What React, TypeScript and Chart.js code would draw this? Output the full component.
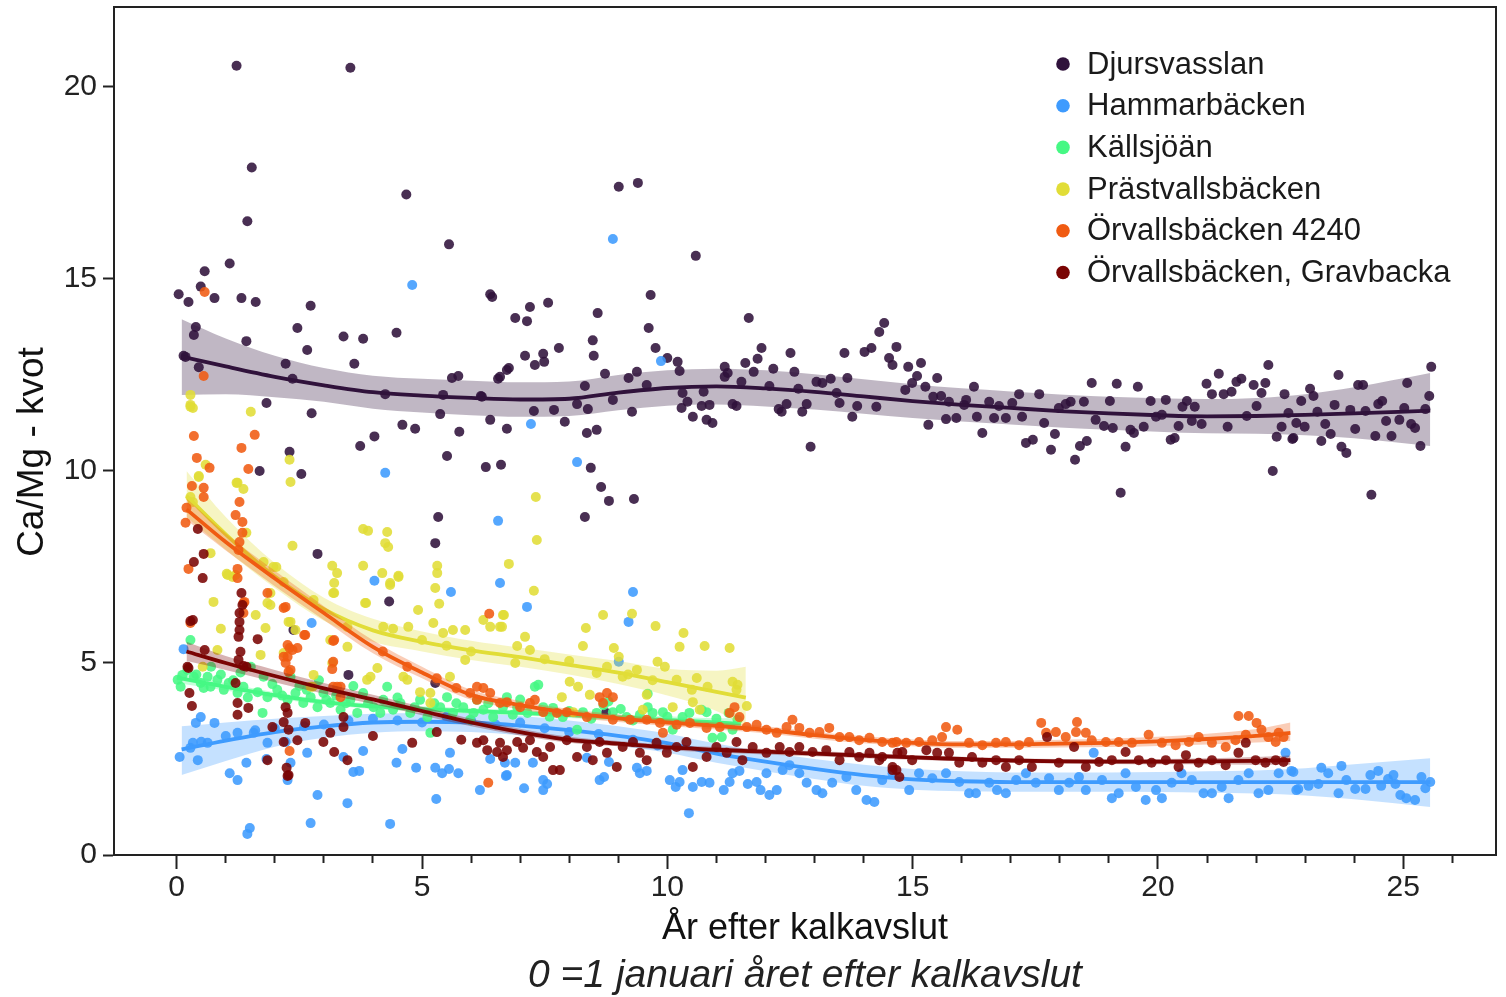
import React, { useEffect, useRef } from "react";
import { Chart, registerables } from "chart.js";

Chart.register(...registerables);

const seriesNames = [
  "Djursvasslan",
  "Hammarbäcken",
  "Källsjöän",
  "Prästvallsbäcken",
  "Örvallsbäcken 4240",
  "Örvallsbäcken, Gravbacka",
];
const seriesColors = ["#30123b", "#3e9bfe", "#46f884", "#e1dd37", "#f05b12", "#7a0403"];

const xTickValues = [0, 1, 2, 3, 4, 5, 6, 7, 8, 9, 10, 11, 12, 13, 14, 15, 16, 17, 18, 19, 20, 21, 22, 23, 24, 25, 26];
const xTickLabels = [0, 5, 10, 15, 20, 25];
const yTickValues = [0, 5, 10, 15, 20];

const xTitle = "År efter kalkavslut";
const yTitle = "Ca/Mg - kvot";
const subTitle = "0 =1 januari året efter kalkavslut";

// ---- scatter points [x, y] ----
const djursvasslanPts = [
  [0.04,14.6],[0.24,14.4],[0.14,13.0],[0.39,13.75],[0.35,13.54],[0.18,12.97],[0.45,12.7],[0.57,15.2],[0.49,14.8],[0.77,14.5],
  [1.22,20.55],[1.08,15.4],[1.32,14.5],[1.53,17.9],[1.44,16.5],[1.61,14.4],[1.42,13.38],[1.83,11.77],[1.69,10.0],[2.3,10.5],
  [2.54,9.92],[2.87,7.84],[2.46,13.72],[2.66,13.15],[2.22,12.79],[2.36,12.4],[2.75,11.5],[2.73,14.3],[3.54,20.5],[3.4,13.5],
  [3.8,13.44],[4.48,13.6],[3.62,12.79],[4.25,12.0],[4.6,11.2],[4.86,11.1],[4.03,10.9],[3.74,10.65],[4.68,17.2],[5.55,15.9],
  [5.37,11.48],[5.43,11.98],[5.61,12.42],[5.74,12.47],[6.2,11.95],[6.39,11.33],[5.76,11.02],[5.51,10.39],[6.3,10.1],[6.61,10.16],
  [6.73,11.1],[6.55,12.4],[6.73,12.63],[5.33,8.8],[5.27,8.12],[4.33,6.6],[2.38,5.86],[3.5,4.69],[5.27,4.48],[8.75,3.7],
  [6.43,14.53],[6.39,14.6],[7.2,14.27],[7.57,14.38],[6.9,13.98],[7.14,13.9],[8.58,14.11],[9.66,14.58],[9.62,13.72],[9.76,13.2],
  [10.0,12.94],[10.21,12.84],[10.25,12.6],[7.79,13.2],[7.1,13.0],[7.47,13.05],[7.3,12.76],[7.49,12.84],[8.5,13.0],[6.77,12.68],
  [6.59,12.45],[8.73,12.53],[9.38,12.58],[9.21,12.42],[9.58,12.24],[8.32,12.21],[8.89,11.85],[6.22,11.93],[7.28,11.56],[7.69,11.59],
  [8.16,11.74],[8.38,11.61],[9.28,11.54],[7.91,11.28],[8.36,10.99],[8.56,11.07],[8.44,10.08],[8.65,9.58],[8.81,9.22],[9.32,9.27],
  [8.32,8.8],[9.01,17.4],[9.4,17.5],[10.58,15.6],[8.48,13.4],
  [10.31,12.03],[10.41,11.8],[10.29,11.64],[10.52,11.41],[10.7,11.69],[10.86,11.72],[10.8,11.33],[10.92,11.25],[10.74,12.06],[11.17,12.71],
  [11.23,12.55],[11.17,12.45],[11.51,12.32],[11.59,12.81],[11.66,13.98],[11.92,13.2],[11.84,12.92],[11.76,12.58],[11.33,11.74],[11.41,11.69],
  [12.16,12.66],[12.08,12.21],[12.51,13.07],[12.59,12.58],[12.67,12.14],[12.27,11.61],[12.33,11.54],[12.43,11.74],[12.75,11.54],[12.84,11.74],
  [12.92,10.63],[13.04,12.32],[13.16,12.29],[13.33,12.4],[13.45,12.03],[13.61,13.07],[13.67,12.42],[13.51,11.77],[13.77,11.41],[13.87,11.69],
  [14.26,11.67],[14.02,13.1],[14.16,13.2],[14.32,13.62],[14.42,13.85],[14.52,12.94],[14.59,12.76],[14.67,13.23],
  [14.91,12.71],[15.17,12.81],[15.09,12.47],[14.99,12.29],[15.5,12.42],[15.26,12.19],[14.85,12.11],[15.42,11.93],[15.58,11.95],[15.74,11.8],
  [15.32,11.2],[15.68,11.35],[15.89,11.38],[16.25,12.19],[16.09,11.85],[16.05,11.72],[16.42,10.99],[16.31,11.41],[16.56,11.8],[16.76,11.69],
  [16.66,11.38],[16.9,11.38],[17.17,12.0],[17.03,11.77],[17.23,11.41],[17.31,10.73],[17.45,10.81],[17.58,12.0],[17.68,11.25],[17.82,10.55],
  [17.9,10.96],[17.98,11.64],[18.12,11.74],[18.22,11.8],[18.31,10.29],[18.41,10.65],[18.55,10.78],[18.49,11.8],[18.65,12.29],[18.73,11.33],
  [18.9,11.17],[19.02,11.82],[19.08,11.12],[19.16,12.27],[19.24,9.43],[19.34,10.63],[19.44,11.07],[19.51,10.99],[19.59,12.19],[19.71,11.15],
  [19.85,11.82],[19.96,11.41],[20.08,11.46],[20.16,11.85],[20.26,10.81],[20.34,10.86],[20.42,11.17],[20.5,11.67],[20.59,11.82],[20.75,11.67],
  [20.69,11.3],[20.89,11.22],[20.99,12.27],[21.1,12.0],[21.24,12.53],[21.34,12.0],[21.42,11.15],[21.5,12.06],[21.6,12.32],[21.7,12.4],
  [21.81,11.43],[21.95,12.24],[22.01,11.69],[22.11,12.03],[22.19,12.29],[22.25,12.76],[22.34,10.0],[22.42,10.89],[22.52,11.15],[22.58,12.0],
  [22.66,11.51],[22.76,10.86],[22.82,11.25],
  [22.92,11.82],[23.1,12.14],[23.17,11.95],[22.99,11.15],[22.74,10.83],[23.33,10.78],[23.41,11.22],[23.52,10.96],[23.25,11.54],[23.6,11.72],
  [23.68,12.5],[23.74,10.63],[23.84,10.47],[23.92,11.59],[24.02,11.09],[24.08,12.24],[24.18,12.24],[24.23,11.56],[24.35,9.38],[24.43,10.91],
  [24.49,11.74],[24.57,11.82],[24.65,11.3],[24.76,10.91],[24.92,11.33],[25.02,11.64],[25.08,12.29],[25.16,11.22],[25.24,11.12],[25.35,10.65],
  [25.45,11.61],[25.53,11.95],[25.57,12.71],
];

const hammarbackenPts = [
  [0.14,5.36],[0.06,2.55],[0.33,2.92],[0.43,2.47],[0.49,3.59],[0.39,3.44],[0.77,3.44],[0.63,2.92],[1.24,3.18],[1.08,2.13],
  [1.24,1.95],[1.42,2.4],[1.49,0.7],[1.44,0.55],[1.83,2.5],[1.57,3.18],[1.85,2.92],[2.22,2.94],[2.26,1.95],[2.32,2.4],
  [2.66,2.66],[2.73,0.83],[2.87,1.56],[3.48,1.35],[3.4,2.55],[3.6,2.16],[3.72,2.19],[3.8,2.71],[4.35,0.81],[4.48,2.4],
  [4.6,2.76],[4.88,2.27],[5.29,1.46],[5.27,2.27],[5.41,2.13],[5.57,2.66],[5.55,2.24],[5.74,2.13],[6.18,1.69],[6.39,2.5],
  [6.73,2.08],[6.59,7.08],[5.59,6.85],[4.03,7.14],[2.75,6.04],[4.25,9.95],[4.8,14.84],[8.89,16.04],[9.87,12.86],[7.22,11.22],
  [8.16,10.23],[6.55,8.7],[7.14,6.46],[9.3,6.85],[9.21,6.07],[9.01,5.03],[0.28,2.79],[0.5,2.95],[1.0,3.1],[1.6,3.25],
  [2.0,3.3],[2.6,3.35],[3.0,3.4],[3.5,3.5],[4.0,3.55],[4.5,3.5],[5.0,3.45],[5.5,3.6],[6.0,3.5],[6.5,3.4],
  [7.0,3.45],[7.5,3.3],[8.0,3.2],[8.6,3.15],[9.3,3.0],[9.8,2.85],
  [6.69,2.4],[6.9,2.4],[6.71,2.06],[7.08,1.74],[7.26,2.4],[7.47,1.95],[7.55,1.85],[7.47,1.69],[8.36,2.53],[8.62,1.95],
  [8.71,2.03],[8.81,2.42],[9.38,2.27],[9.44,2.13],[9.58,2.19],[10.05,1.95],[10.17,1.77],[10.25,1.9],[10.44,1.09],[10.31,2.21],
  [10.52,1.77],[10.7,1.9],[10.86,1.88],[11.15,1.69],[11.27,1.9],[11.33,2.13],[11.47,2.19],[11.64,1.85],[11.82,1.9],[11.9,1.69],
  [12.08,1.56],[12.23,1.69],[12.02,2.13],[12.35,2.21],[12.49,2.34],[12.69,2.13],[12.84,1.88],[13.04,1.69],[13.16,1.61],[13.36,1.88],
  [13.65,2.03],[13.85,1.69],[14.06,1.43],[14.22,1.38],[14.38,1.95],[14.59,2.13],
  [14.93,1.69],[15.13,2.13],[15.4,2.0],[15.68,2.13],[15.95,1.9],[16.15,1.61],[16.29,1.61],[16.56,1.88],[16.72,1.69],[16.9,1.61],
  [17.11,1.95],[17.31,2.13],[17.51,1.88],[17.78,2.0],[17.98,1.69],[18.19,1.88],[18.39,2.03],[18.53,1.69],[18.69,2.66],[18.86,1.95],
  [19.06,1.48],[19.2,1.61],[19.34,2.13],[19.55,1.77],[19.75,1.43],[19.96,1.69],[20.08,1.48],[20.28,1.88],[20.48,2.13],[20.69,1.95],
  [20.93,1.61],[21.1,1.61],[21.3,1.77],[21.44,1.48],[21.64,1.95],[21.85,2.13],[22.05,1.61],[22.25,1.69],[22.46,2.13],[22.6,2.66],
  [22.76,2.16],[22.82,1.69],
  [22.72,2.19],[23.33,2.27],[23.47,2.13],[23.74,2.32],[22.86,1.72],[23.07,1.8],[23.27,1.85],[23.68,1.61],[23.84,1.95],[24.02,1.72],
  [24.23,1.72],[24.33,2.08],[24.49,2.19],[24.69,1.98],[24.8,2.08],[24.94,1.56],[25.06,1.48],[25.24,1.43],[25.37,2.03],[25.55,1.9],
  [25.45,1.74],[24.55,1.8],[24.84,1.85],
];

const kallsjoanPts = [
  [0.28,5.6],[0.02,4.56],[0.12,4.69],[0.22,4.82],[0.35,4.64],[0.49,4.48],[0.63,4.64],[0.69,4.38],[0.83,4.56],[0.96,4.3],
  [1.06,4.48],[1.24,4.22],[1.36,4.38],[1.51,4.9],[1.65,4.24],[1.77,4.64],[1.85,4.11],[2.05,4.3],[2.26,4.04],[2.32,4.64],
  [2.42,4.22],[2.58,3.96],[2.73,4.11],[2.87,3.85],[2.99,4.22],[3.13,3.96],[3.34,3.78],[3.54,4.04],[3.68,3.7],[3.8,4.22],
  [4.01,3.85],[4.21,4.04],[4.29,4.38],[4.41,3.78],[4.56,3.96],[4.76,3.7],[4.96,4.04],[5.11,3.59],[5.17,3.18],[5.37,3.85],
  [5.51,4.11],[5.63,3.7],[5.84,3.85],[5.98,3.52],[6.12,4.04],[6.25,3.78],[6.45,3.59],[6.65,3.85],[1.75,3.7],[0.08,4.38],
  [7.3,4.38],[7.37,4.43],[6.73,4.11],[6.94,3.85],[7.47,3.85],[7.67,3.83],[7.87,3.59],[8.16,3.26],[8.28,3.72],[8.56,3.7],
  [8.89,3.72],[9.17,3.59],[9.44,3.65],[9.7,3.7],[9.91,3.72],[10.11,3.26],[10.31,3.59],[10.7,3.78],[10.8,3.72],[10.92,3.05],
  [11.11,3.07],[11.33,3.26],[11.43,3.52],
  [0.4,4.7],[0.55,4.35],[0.9,4.7],[1.15,4.55],[1.45,4.1],[1.95,4.45],[2.15,4.15],[2.5,4.4],[2.65,4.3],[3.05,4.05],
  [3.25,4.15],[3.45,3.95],[3.9,3.95],[4.15,3.7],[4.5,4.1],[4.85,3.85],[5.25,3.95],[5.7,3.95],[6.05,3.7],[6.35,3.95],
  [6.85,3.65],[7.15,3.7],[7.6,3.6],[8.0,3.75],[8.45,3.55],[8.7,3.9],[9.05,3.8],[9.3,3.5],[9.6,3.85],[10.0,3.6],
  [10.45,3.7],[11.0,3.55],[11.25,3.7],[0.7,4.9],[1.3,4.75],[2.9,4.55],[3.6,4.4],[8.8,4.0],[9.6,4.2],[7.0,4.05],
];

const prastvallsbackenPts = [
  [0.28,11.72],[0.33,11.64],[1.51,11.54],[2.3,10.29],[2.32,9.71],[0.59,10.16],[0.45,9.84],[1.22,9.69],[1.36,9.53],[0.28,9.32],
  [0.33,9.19],[1.42,8.39],[2.36,8.05],[0.69,7.86],[1.02,7.32],[1.14,7.24],[0.75,6.59],[0.9,5.89],[0.83,5.34],[0.53,4.9],
  [1.77,7.63],[2.03,7.5],[2.18,7.11],[1.61,6.25],[1.85,6.56],[1.81,5.91],[1.71,5.21],[2.28,6.07],[2.79,4.69],[3.17,7.53],
  [3.27,7.34],[3.21,7.08],[3.21,6.82],[3.8,8.49],[3.9,8.44],[4.29,8.41],[4.25,8.12],[4.31,8.02],[3.8,7.53],[4.19,7.34],
  [4.52,7.27],[4.35,7.08],[3.86,6.56],[4.92,6.38],[5.31,7.53],[5.31,7.34],[5.27,6.95],[5.35,6.54],[5.23,6.04],[4.21,5.94],
  [4.41,5.89],[4.72,5.94],[5.43,5.78],[3.48,5.94],[2.79,6.64],[1.91,6.82],[3.48,5.42],[4.09,4.87],[3.88,4.56],[3.17,5.0],
  [4.62,4.64],[5.17,4.22],[2.42,5.86],[2.77,4.38],
  [6.77,7.58],[6.67,6.25],[6.63,5.94],[7.28,6.88],[7.1,5.68],[6.94,5.44],[7.2,5.34],[6.9,5.0],[8.34,5.91],[8.28,5.44],
  [8.69,6.25],[9.28,6.28],[8.91,5.39],[9.01,5.16],[9.76,5.96],[10.33,5.78],[10.25,5.42],[10.76,5.44],[11.27,5.39],[8.01,4.51],
  [8.18,4.38],[7.85,4.11],[8.42,4.17],[8.56,4.74],[8.77,4.9],[9.09,4.64],[9.38,4.82],[9.58,4.17],[9.8,5.03],[9.95,4.9],
  [10.19,4.56],[10.11,3.85],[10.6,4.61],[10.52,3.98],[10.82,4.38],[11.33,4.51],[11.43,4.43],[11.41,4.3],[11.62,3.88],[8.08,3.72],
  [9.5,3.78],[10.66,3.78],
  [1.04,7.29],[1.2,7.29],[1.97,7.5],[1.91,6.51],[2.18,5.26],[2.32,6.07],[3.13,5.6],[3.19,6.82],[3.84,6.56],[3.95,4.64],
  [4.35,7.03],[4.52,7.24],[5.63,5.86],[5.88,5.08],[5.88,5.86],[6.25,6.12],[6.39,5.94],[6.59,5.94],[6.65,6.25],[4.7,4.56],
  [4.96,4.24],[5.17,3.96],[5.57,4.64],[2.73,4.38],[7.32,9.32],[7.34,8.2],[0.28,11.98],[0.28,11.67],[0.45,9.87],[1.24,9.69],
  [5.0,5.6],[5.5,5.45],[6.0,5.3],[7.5,5.1],[8.0,5.05],[9.2,4.7],[9.7,4.55],[10.5,4.3],
];

const orvalls4240Pts = [
  [0.57,14.66],[0.55,12.47],[0.35,10.91],[1.59,10.94],[1.32,10.6],[0.41,10.34],[0.67,10.08],[1.46,10.05],[0.31,9.61],[0.55,9.56],
  [0.55,9.32],[1.28,9.19],[0.2,9.04],[1.2,8.85],[1.34,8.67],[0.18,8.65],[1.34,8.39],[1.28,8.15],[1.26,7.94],[0.24,7.45],
  [1.24,7.45],[1.24,7.21],[1.85,6.82],[1.38,6.59],[2.18,6.43],[1.36,6.3],[2.6,5.73],[2.3,5.39],[2.46,5.39],[2.26,5.16],
  [2.22,5.0],[2.32,4.82],[3.19,5.57],[3.19,5.03],[3.17,4.84],[3.19,4.38],[3.34,4.38],[2.22,6.46],[1.36,6.56],[2.26,5.47],
  [2.36,5.34],[2.18,5.16],[2.28,4.77],[3.21,5.6],[3.27,4.38],[3.34,4.11],[2.62,5.73],[6.37,6.28],[6.25,4.35],[6.39,4.22],
  [6.35,1.88],[2.3,2.71],[0.28,6.04],[6.12,4.38],[5.98,4.22],[6.12,4.04],[4.2,5.3],[4.7,4.9],[5.3,4.6],[5.7,4.35],
  [6.59,3.96],[6.73,3.98],[7.0,3.85],[7.2,3.96],[7.3,4.04],[7.47,3.72],[7.75,3.7],[7.95,3.72],[8.36,3.59],[8.62,4.11],
  [8.77,4.22],[8.89,4.11],[8.69,3.96],[8.89,3.52],[9.24,3.52],[9.58,3.52],[9.85,3.44],[9.91,3.18],[10.19,3.39],[10.46,3.44],
  [10.8,3.31],[11.07,3.33],[11.27,3.7],[11.37,3.85],[11.47,3.59],[11.62,3.33],[11.82,3.39],[12.02,3.26],[12.23,3.18],[12.43,3.33],
  [12.55,3.52],[12.69,3.31],[12.9,3.18],[13.1,3.2],[13.3,3.31],[13.51,3.07],[13.71,3.07],[13.91,2.99],[14.12,3.05],[14.38,2.94],
  [14.67,2.94],
  [14.59,2.92],[14.87,2.92],[15.13,2.94],[15.4,2.99],[15.68,3.33],[15.91,3.26],[15.6,3.07],[16.15,2.92],[16.42,2.86],[16.7,2.92],
  [16.9,2.94],[17.17,2.86],[17.37,2.94],[17.62,3.44],[17.72,3.18],[17.92,3.2],[18.12,3.07],[18.35,3.46],[18.33,3.2],[18.53,3.18],
  [18.65,2.99],[18.94,2.94],[19.2,2.94],[19.47,2.92],[19.81,3.13],[20.08,2.92],[20.36,2.86],[20.63,2.94],[20.83,3.07],[21.1,2.92],
  [21.38,2.81],[21.58,2.99],[21.64,3.62],[21.85,3.62],[22.01,3.44],[22.11,3.26],[22.25,3.07],[22.46,3.18],[22.56,3.07],[22.4,2.94],
  [21.79,3.13],
];

const gravbackaPts = [
  [0.55,7.84],[0.35,7.63],[0.53,7.21],[0.43,8.49],[0.33,6.12],[0.22,4.9],[0.26,4.22],[1.32,6.82],[1.34,6.51],[1.28,6.3],
  [1.28,6.07],[1.28,5.86],[1.26,5.68],[1.3,5.29],[1.26,5.08],[1.42,4.9],[1.65,5.62],[0.57,5.34],[0.28,6.09],[0.24,4.87],
  [0.31,3.88],[1.36,4.92],[1.2,4.48],[1.24,3.96],[1.46,3.83],[1.24,3.65],[1.85,2.47],[2.22,3.85],[2.26,3.7],[2.18,3.46],
  [2.28,3.26],[2.18,2.94],[2.28,2.08],[2.24,2.27],[1.95,3.33],[2.99,2.94],[3.13,3.18],[3.21,2.68],[3.48,2.47],[2.46,2.99],
  [3.4,3.59],[6.25,2.99],[6.12,2.92],[6.33,2.73],[6.53,2.68],[6.65,2.55],[2.62,3.44],[3.4,3.33],[4.0,3.1],[4.8,2.92],
  [5.3,3.2],[5.8,3.0],[2.26,2.06],
  [6.59,2.92],[6.73,2.73],[6.94,2.94],[7.06,2.79],[7.2,2.99],[7.34,2.68],[7.47,2.55],[7.67,2.21],[7.81,2.21],[7.61,2.81],
  [7.95,2.99],[8.16,2.55],[8.36,2.81],[8.48,2.47],[8.62,2.94],[8.77,2.66],[8.97,2.29],[9.09,2.81],[9.3,2.94],[9.44,2.66],
  [9.58,2.47],[9.78,2.92],[9.99,2.66],[10.19,2.81],[10.39,2.94],[10.52,2.29],[10.8,2.55],[11.0,2.81],[11.21,2.66],[11.41,2.94],
  [11.53,2.47],[11.74,2.81],[12.02,2.66],[12.29,2.81],[12.49,2.68],[12.69,2.81],[12.96,2.68],[13.24,2.73],[13.51,2.47],[13.71,2.68],
  [13.91,2.55],[14.12,2.66],[14.38,2.55],[14.59,2.29],[14.69,2.66],
  [14.32,2.47],[14.59,2.21],[14.79,2.68],[14.99,2.47],[15.28,2.73],[15.5,2.66],[15.74,2.66],[15.95,2.4],[16.21,2.55],[16.42,2.4],
  [16.7,2.47],[16.9,2.29],[17.17,2.47],[17.43,2.29],[17.74,3.07],[17.98,2.4],[18.29,2.81],[18.53,2.29],[18.8,2.42],[19.06,2.47],
  [19.34,2.68],[19.61,2.47],[19.87,2.4],[20.16,2.47],[20.42,2.29],[20.57,2.6],[20.83,2.4],[21.1,2.47],[21.38,2.34],[21.64,2.66],
  [21.79,2.92],[21.99,2.47],[22.19,2.4],[22.4,2.47],[22.56,2.42],[14.67,2.21],[14.73,2.03],
];

// ---- fitted trend lines and confidence bands ----
const djurTrendX = [0.1,1,2,3,4,5,6,7,8,9,10,11,12,13,14,15,16,17,18,19,20,21,22,23,24,25.55];
const djurTrendY = [12.98,12.72,12.45,12.23,12.05,11.96,11.9,11.86,11.88,12.04,12.16,12.2,12.15,12.06,11.94,11.82,11.72,11.64,11.56,11.5,11.45,11.42,11.43,11.46,11.5,11.57];
const djurLo = [11.98,12.0,11.92,11.8,11.62,11.52,11.45,11.41,11.43,11.58,11.7,11.73,11.68,11.6,11.49,11.38,11.29,11.21,11.13,11.07,11.02,10.98,10.97,10.93,10.85,10.65];
const djurHi = [13.95,13.45,13.0,12.68,12.48,12.4,12.35,12.31,12.33,12.5,12.62,12.66,12.62,12.52,12.39,12.26,12.15,12.07,11.99,11.93,11.89,11.87,11.9,12.0,12.18,12.55];

const hamTrendX = [0.1,1,2,3,4,5,6,7,8,9,10,11,12,13,14,15,16,17,18,19,20,21,22,23,24,25.55];
const hamTrendY = [2.75,2.98,3.2,3.35,3.45,3.47,3.45,3.37,3.25,3.1,2.91,2.64,2.43,2.24,2.08,1.97,1.92,1.9,1.9,1.9,1.9,1.9,1.9,1.9,1.9,1.9];
const hamLo = [2.08,2.45,2.82,3.05,3.18,3.22,3.2,3.12,3.0,2.85,2.66,2.4,2.18,1.98,1.8,1.7,1.66,1.65,1.65,1.65,1.64,1.62,1.6,1.55,1.45,1.25];
const hamHi = [3.35,3.45,3.55,3.62,3.68,3.7,3.69,3.62,3.5,3.35,3.16,2.9,2.68,2.5,2.35,2.24,2.18,2.15,2.15,2.15,2.16,2.18,2.2,2.26,2.36,2.52];

const kalTrendX = [0,1,2,3,4,5,6,7,8,9,10,11,11.5];
const kalTrendY = [4.62,4.38,4.16,3.98,3.87,3.8,3.75,3.7,3.64,3.58,3.52,3.45,3.42];
const kalLo = [4.48,4.28,4.08,3.91,3.8,3.73,3.68,3.63,3.57,3.5,3.43,3.34,3.28];
const kalHi = [4.76,4.48,4.24,4.05,3.94,3.87,3.82,3.77,3.71,3.66,3.61,3.56,3.56];

const praTrendX = [0.2,1,2,3,4,5,6,7,8,9,10,11,11.6];
const praTrendY = [9.35,8.35,7.25,6.4,5.85,5.55,5.33,5.15,4.95,4.75,4.5,4.25,4.1];
const praLo = [8.8,7.95,6.95,6.1,5.55,5.3,5.08,4.9,4.7,4.45,4.15,3.75,3.33];
const praHi = [10.0,8.8,7.6,6.7,6.15,5.82,5.58,5.4,5.22,5.05,4.85,4.8,4.9];

const orvTrendX = [0.2,1,2,3,4,5,6,7,8,9,10,11,12,13,14,15,16,17,18,19,20,21,22,22.7];
const orvTrendY = [9.0,8.15,7.2,6.3,5.42,4.75,4.17,3.9,3.7,3.56,3.45,3.36,3.26,3.12,3.0,2.92,2.88,2.88,2.9,2.92,2.96,3.02,3.1,3.18];
const orvLo = [8.72,7.93,7.0,6.12,5.25,4.6,4.04,3.79,3.6,3.46,3.36,3.27,3.17,3.03,2.91,2.83,2.79,2.79,2.8,2.81,2.84,2.88,2.93,2.97];
const orvHi = [9.28,8.37,7.4,6.48,5.59,4.9,4.3,4.01,3.8,3.66,3.54,3.45,3.35,3.21,3.09,3.01,2.97,2.97,3.0,3.03,3.08,3.16,3.28,3.45];

const graTrendX = [0.2,1,2,3,4,5,6,7,8,9,10,11,12,13,14,15,16,17,18,19,20,21,22,22.7];
const graTrendY = [5.3,5.0,4.66,4.34,4.05,3.75,3.45,3.2,3.0,2.9,2.8,2.74,2.69,2.64,2.59,2.54,2.5,2.46,2.44,2.43,2.43,2.44,2.45,2.47];
const graLo = [5.05,4.82,4.5,4.2,3.93,3.64,3.35,3.11,2.92,2.83,2.73,2.67,2.62,2.57,2.52,2.48,2.44,2.4,2.38,2.37,2.36,2.36,2.35,2.35];
const graHi = [5.55,5.18,4.82,4.48,4.17,3.86,3.55,3.29,3.08,2.97,2.87,2.81,2.76,2.71,2.66,2.6,2.56,2.52,2.5,2.49,2.5,2.52,2.55,2.59];

const seriesPoints = [djursvasslanPts, hammarbackenPts, kallsjoanPts, prastvallsbackenPts, orvalls4240Pts, gravbackaPts];
const trendXs = [djurTrendX, hamTrendX, kalTrendX, praTrendX, orvTrendX, graTrendX];
const trendYs = [djurTrendY, hamTrendY, kalTrendY, praTrendY, orvTrendY, graTrendY];
const trendLos = [djurLo, hamLo, kalLo, praLo, orvLo, graLo];
const trendHis = [djurHi, hamHi, kalHi, praHi, orvHi, graHi];

const FONT = '"Liberation Sans", Arial, Helvetica, sans-serif';

function rgba(hex: string, a: number) {
  const n = parseInt(hex.slice(1), 16);
  return `rgba(${(n >> 16) & 255},${(n >> 8) & 255},${n & 255},${a})`;
}

function buildDatasets() {
  const ds: any[] = [];
  let seq = 0;
  seriesNames.forEach((name, s) => {
    const color = seriesColors[s];
    const tx = trendXs[s];
    ds.push({
      type: "scatter",
      label: name,
      data: seriesPoints[s].map(([x, y]) => ({ x, y })),
      backgroundColor: rgba(color, 0.88),
      borderWidth: 0,
      pointRadius: 5,
      pointHoverRadius: 5,
      order: 1000 - seq++,
    });
    const bandOrder = 1000 - seq++;
    ds.push({
      type: "line",
      label: name + " hi",
      data: tx.map((x, i) => ({ x, y: trendHis[s][i] })),
      borderWidth: 0,
      pointRadius: 0,
      backgroundColor: rgba(color, 0.3),
      fill: "+1",
      cubicInterpolationMode: "monotone",
      order: bandOrder,
    });
    ds.push({
      type: "line",
      label: name + " lo",
      data: tx.map((x, i) => ({ x, y: trendLos[s][i] })),
      borderWidth: 0,
      pointRadius: 0,
      fill: false,
      cubicInterpolationMode: "monotone",
      order: bandOrder,
    });
    ds.push({
      type: "line",
      label: name + " fit",
      data: tx.map((x, i) => ({ x, y: trendYs[s][i] })),
      borderColor: color,
      borderWidth: 3.8,
      pointRadius: 0,
      fill: false,
      cubicInterpolationMode: "monotone",
      order: 1000 - seq++,
    });
  });
  return ds;
}

const framePlugin = {
  id: "frame",
  afterDraw(chart: any) {
    const { ctx, chartArea } = chart;
    ctx.save();
    ctx.strokeStyle = "#222";
    ctx.lineWidth = 2;
    ctx.beginPath();
    ctx.moveTo(chartArea.left, chartArea.bottom);
    ctx.lineTo(chartArea.left, chartArea.top);
    ctx.lineTo(chartArea.right, chartArea.top);
    ctx.lineTo(chartArea.right, chartArea.bottom);
    ctx.stroke();
    ctx.restore();
  },
};

const legendPlugin = {
  id: "innerLegend",
  afterDraw(chart: any) {
    const { ctx } = chart;
    ctx.save();
    ctx.font = `31px ${FONT}`;
    ctx.textBaseline = "middle";
    ctx.textAlign = "left";
    seriesNames.forEach((name, i) => {
      const cy = 64 + i * 41.7;
      ctx.fillStyle = seriesColors[i];
      ctx.beginPath();
      ctx.arc(1063, cy, 6.8, 0, Math.PI * 2);
      ctx.fill();
      ctx.fillStyle = "#1a1a1a";
      ctx.fillText(name, 1087, cy + 1);
    });
    ctx.restore();
  },
};

const textPlugin = {
  id: "extraTexts",
  afterDraw(chart: any) {
    const { ctx, chartArea } = chart;
    ctx.save();
    ctx.fillStyle = "#222";
    ctx.textAlign = "center";
    ctx.textBaseline = "middle";
    ctx.font = `italic 39px ${FONT}`;
    ctx.fillText(subTitle, (chartArea.left + chartArea.right) / 2, 976);
    ctx.translate(33, 452);
    ctx.rotate(-Math.PI / 2);
    ctx.fillStyle = "#111";
    ctx.font = `37px ${FONT}`;
    ctx.fillText(yTitle, 0, 0);
    ctx.restore();
  },
};

export default function App() {
  const ref = useRef<HTMLCanvasElement>(null);
  useEffect(() => {
    if (!ref.current) return;
    const chart = new Chart(ref.current, {
      type: "scatter",
      data: { datasets: buildDatasets() },
      plugins: [framePlugin, legendPlugin, textPlugin],
      options: {
        animation: false,
        responsive: false,
        events: [],
        layout: { padding: { top: 7, right: 10, left: 0, bottom: 0 } },
        plugins: { legend: { display: false }, tooltip: { enabled: false } },
        scales: {
          x: {
            type: "linear",
            min: -1.278,
            max: 26.89,
            afterBuildTicks: (scale: any) => {
              scale.ticks = xTickValues.map((v) => ({ value: v }));
            },
            afterFit: (scale: any) => {
              scale.height = 142;
              scale.paddingLeft = 0;
              scale.paddingRight = 0;
            },
            ticks: {
              autoSkip: false,
              maxRotation: 0,
              padding: 1,
              color: "#222",
              font: { family: FONT, size: 30 },
              callback: (v: any) => (xTickLabels.includes(Number(v)) ? String(v) : ""),
            },
            grid: {
              drawOnChartArea: false,
              drawTicks: true,
              tickLength: 14,
              tickWidth: 2,
              tickColor: "#222",
              tickBorderDash: (ctx: any) =>
                ctx.tick && xTickLabels.includes(ctx.tick.value) ? [] : [7, 40],
            },
            border: { display: true, color: "#222", width: 2 },
            title: {
              display: true,
              text: xTitle,
              color: "#111",
              font: { family: FONT, size: 36 },
              padding: { top: 0, bottom: 46 },
            },
          },
          y: {
            type: "linear",
            min: 0,
            max: 22.08,
            afterBuildTicks: (scale: any) => {
              scale.ticks = yTickValues.map((v) => ({ value: v }));
            },
            afterFit: (scale: any) => {
              scale.width = 114;
              scale.paddingTop = 0;
              scale.paddingBottom = 0;
            },
            ticks: {
              padding: 6,
              color: "#222",
              font: { family: FONT, size: 30 },
            },
            grid: {
              drawOnChartArea: false,
              drawTicks: true,
              tickLength: 11,
              tickWidth: 2,
              tickColor: "#222",
            },
            border: { display: true, color: "#222", width: 2 },
            title: { display: false },
          },
        },
      } as any,
    });
    return () => chart.destroy();
  }, []);
  return (
    <div style={{ position: "absolute", left: 0, top: 0, width: 1506, height: 997, background: "#fff" }}>
      <canvas ref={ref} width={1506} height={997} style={{ display: "block", width: 1506, height: 997 }} />
    </div>
  );
}
